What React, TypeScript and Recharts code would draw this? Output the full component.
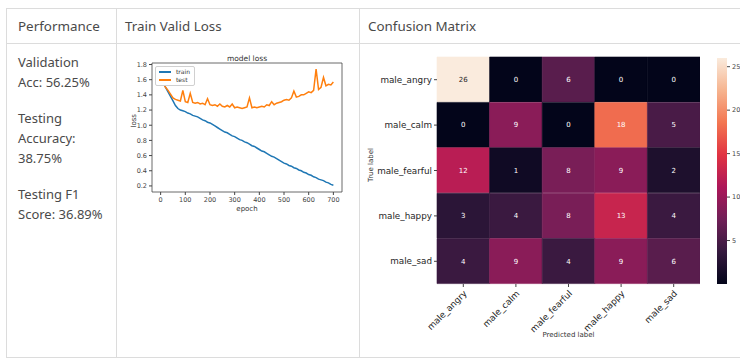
import React from 'react';
import {
  LineChart,
  Line,
  XAxis,
  YAxis,
  ReferenceArea,
  BarChart,
  Bar,
  Cell,
  LabelList,
} from 'recharts';

// training history, sampled every 10 epochs
const epochs = [
  0, 10, 20, 30, 40, 50, 60, 70, 80, 90, 100, 110, 120, 130, 140, 150, 160, 170, 180, 190,
  200, 210, 220, 230, 240, 250, 260, 270, 280, 290, 300, 310, 320, 330, 340, 350, 360, 370, 380, 390,
  400, 410, 420, 430, 440, 450, 460, 470, 480, 490, 500, 510, 520, 530, 540, 550, 560, 570, 580, 590,
  600, 610, 620, 630, 640, 650, 660, 670, 680, 690, 700,
];
const trainLoss = [
  1.6, 1.56, 1.5, 1.44, 1.38, 1.32, 1.26, 1.22, 1.2, 1.19, 1.18, 1.16, 1.15, 1.13, 1.12, 1.11, 1.09, 1.07, 1.06, 1.04,
  1.03, 1.01, 0.99, 0.97, 0.95, 0.93, 0.91, 0.9, 0.88, 0.86, 0.85, 0.83, 0.81, 0.8, 0.78, 0.77, 0.75, 0.73, 0.72, 0.7,
  0.68, 0.66, 0.65, 0.63, 0.61, 0.59, 0.58, 0.56, 0.54, 0.52, 0.5, 0.49, 0.47, 0.46, 0.44, 0.43, 0.41, 0.4, 0.38, 0.37,
  0.35, 0.34, 0.32, 0.31, 0.29, 0.28, 0.27, 0.25, 0.24, 0.22, 0.21,
];
const testLoss = [
  1.58, 1.55, 1.5, 1.46, 1.41, 1.36, 1.34, 1.33, 1.32, 1.46, 1.31, 1.3, 1.42, 1.3, 1.29, 1.3, 1.28, 1.29, 1.27, 1.35,
  1.27, 1.26, 1.27, 1.25, 1.28, 1.25, 1.24, 1.26, 1.24, 1.28, 1.23, 1.24, 1.23, 1.22, 1.23, 1.24, 1.36, 1.23, 1.24, 1.23,
  1.24, 1.25, 1.24, 1.27, 1.26, 1.31, 1.27, 1.29, 1.3, 1.31, 1.33, 1.34, 1.33, 1.36, 1.45, 1.37, 1.38, 1.4, 1.4, 1.42,
  1.44, 1.43, 1.46, 1.74, 1.47, 1.5, 1.63, 1.52, 1.54, 1.53, 1.57,
];
const lossTicksX = [0, 100, 200, 300, 400, 500, 600, 700];
const lossTicksY = [0.2, 0.4, 0.6, 0.8, 1.0, 1.2, 1.4, 1.6, 1.8];

// confusion matrix, rows = true label, columns = predicted label
const classNames = ['male_angry', 'male_calm', 'male_fearful', 'male_happy', 'male_sad'];
const angryRow = [26, 0, 6, 0, 0];
const calmRow = [0, 9, 0, 18, 5];
const fearfulRow = [12, 1, 8, 9, 2];
const happyRow = [3, 4, 8, 13, 4];
const sadRow = [4, 9, 4, 9, 6];
const matrixRows = [angryRow, calmRow, fearfulRow, happyRow, sadRow];
const colorbarTicks = [0, 5, 10, 15, 20, 25];

const lossData = epochs.map((epoch, i) => ({ epoch, train: trainLoss[i], test: testLoss[i] }));

const heatData = classNames.map((name, i) => {
  const row: Record<string, any> = { name };
  matrixRows[i].forEach((v, j) => {
    row[`c${j}`] = 1;
    row[`v${j}`] = v;
  });
  return row;
});
const matrixMax = Math.max(...matrixRows.flat());

// seaborn "rocket" palette
const rocketStops = ['#03051a', '#35193e', '#701f57', '#ad1759', '#e13342', '#f37651', '#f6b48f', '#faebdd'];

const hexToRgb = (h: string) => [1, 3, 5].map((k) => parseInt(h.slice(k, k + 2), 16));
const rocket = (t: number) => {
  const p = Math.min(Math.max(t, 0), 1) * (rocketStops.length - 1);
  const i = Math.min(Math.floor(p), rocketStops.length - 2);
  const f = p - i;
  const a = hexToRgb(rocketStops[i]);
  const b = hexToRgb(rocketStops[i + 1]);
  const c = a.map((v, k) => Math.round(v + (b[k] - v) * f));
  return `rgb(${c[0]},${c[1]},${c[2]})`;
};

const ink = '#4a4a4a';
const border = '#dcdcdc';
const mpl = 'DejaVu Sans, sans-serif';

const LossLegend = () => (
  <div
    style={{
      position: 'absolute',
      left: 155,
      top: 66,
      border: '1px solid #d0d0d0',
      borderRadius: 2,
      background: '#fff',
      padding: '1px 4px 1px 3px',
      fontFamily: mpl,
      fontSize: 6,
      color: '#333',
      lineHeight: '8px',
    }}
  >
    {[
      ['train', '#1f77b4'],
      ['test', '#ff7f0e'],
    ].map(([label, color]) => (
      <div key={label} style={{ display: 'flex', alignItems: 'center' }}>
        <span style={{ display: 'inline-block', width: 12, height: 1.2, background: color, marginRight: 5 }} />
        {label}
      </div>
    ))}
  </div>
);

const CellLabel = (props: any) => {
  const { x, y, width, height, value } = props;
  return (
    <text
      x={x + width / 2}
      y={y + height / 2}
      dy={2.5}
      textAnchor="middle"
      fontSize={7}
      fontFamily={mpl}
      fill={value / matrixMax > 0.8 ? '#262626' : '#ffffff'}
    >
      {value}
    </text>
  );
};

const PredictedTick = (props: any) => {
  const { x, y, payload } = props;
  return (
    <g transform={`translate(${x + 2},${y + 3})`}>
      <text
        x={0}
        y={0}
        dy={3}
        textAnchor="end"
        transform="rotate(-45)"
        fontSize={8.8}
        fontFamily={mpl}
        fill="#262626"
      >
        {classNames[Math.floor(payload.value)]}
      </text>
    </g>
  );
};

const Rule = ({ style }: { style: React.CSSProperties }) => (
  <div style={{ position: 'absolute', background: border, ...style }} />
);

export default function App() {
  return (
    <div
      style={{
        position: 'absolute',
        left: 0,
        top: 0,
        width: 740,
        height: 359,
        overflow: 'hidden',
        background: '#fff',
        fontFamily: '"Noto Sans", "Open Sans", sans-serif',
        color: ink,
      }}
    >
      <svg width={0} height={0} style={{ position: 'absolute' }}>
        <defs>
          <linearGradient id="rocketScale" x1="0" y1="1" x2="0" y2="0">
            {rocketStops.map((c, i) => (
              <stop key={c} offset={i / (rocketStops.length - 1)} stopColor={c} />
            ))}
          </linearGradient>
        </defs>
      </svg>

      {/* table rules */}
      <Rule style={{ left: 6, top: 8, width: 734, height: 1 }} />
      <Rule style={{ left: 6, top: 43, width: 734, height: 1 }} />
      <Rule style={{ left: 6, top: 357, width: 734, height: 1 }} />
      <Rule style={{ left: 6, top: 8, width: 1, height: 350 }} />
      <Rule style={{ left: 116, top: 8, width: 1, height: 350 }} />
      <Rule style={{ left: 359, top: 8, width: 1, height: 350 }} />

      {/* header */}
      {[
        ['Performance', 18],
        ['Train Valid Loss', 125],
        ['Confusion Matrix', 368],
      ].map(([t, x]) => (
        <div key={t as string} style={{ position: 'absolute', left: x as number, top: 16, fontSize: 13.4, lineHeight: '20px' }}>
          {t}
        </div>
      ))}

      {/* metrics */}
      <div style={{ position: 'absolute', left: 18, top: 52, fontSize: 13, lineHeight: '20px' }}>
        Validation<br />Acc: 56.25%
      </div>
      <div style={{ position: 'absolute', left: 18, top: 108, fontSize: 13, lineHeight: '20px' }}>
        Testing<br />Accuracy:<br />38.75%
      </div>
      <div style={{ position: 'absolute', left: 18, top: 184, fontSize: 13, lineHeight: '20px' }}>
        Testing F1<br />Score: 36.89%
      </div>

      {/* model loss */}
      <div
        style={{
          position: 'absolute',
          left: 152,
          width: 190,
          top: 54,
          textAlign: 'center',
          fontFamily: mpl,
          fontSize: 7.5,
          color: '#333',
        }}
      >
        model loss
      </div>
      <div style={{ position: 'absolute', left: 128, top: 48 }}>
        <LineChart width={228} height={170} data={lossData} margin={{ top: 15, right: 14, left: 0, bottom: 0 }}>
          <XAxis
            dataKey="epoch"
            type="number"
            domain={[-35, 735]}
            allowDataOverflow
            ticks={lossTicksX}
            tick={{ fontSize: 6.5, fill: '#444', fontFamily: mpl }}
            tickSize={3}
            tickLine={{ stroke: '#444' }}
            axisLine={false}
            height={26}
            label={{ value: 'epoch', position: 'insideBottom', offset: 7, fontSize: 7, fill: '#333', fontFamily: mpl }}
          />
          <YAxis
            type="number"
            domain={[0.12, 1.82]}
            allowDataOverflow
            ticks={lossTicksY}
            tickFormatter={(v: number) => v.toFixed(1)}
            tick={{ fontSize: 6.5, fill: '#444', fontFamily: mpl }}
            tickSize={3}
            tickLine={{ stroke: '#444' }}
            axisLine={false}
            width={24}
            label={{ value: 'loss', angle: -90, position: 'insideLeft', offset: 6, fontSize: 7, fill: '#333', fontFamily: mpl }}
          />
          <ReferenceArea x1={-35} x2={735} y1={0.12} y2={1.82} fill="none" stroke="#444" strokeWidth={0.8} />
          <Line type="linear" dataKey="train" stroke="#1f77b4" strokeWidth={1.5} dot={false} isAnimationActive={false} />
          <Line type="linear" dataKey="test" stroke="#ff7f0e" strokeWidth={1.5} dot={false} isAnimationActive={false} />
        </LineChart>
      </div>
      <LossLegend />

      {/* confusion matrix */}
      <div
        style={{
          position: 'absolute',
          left: 371,
          top: 165,
          transform: 'translate(-50%, -50%) rotate(-90deg)',
          fontFamily: mpl,
          fontSize: 7,
          color: '#333',
          whiteSpace: 'nowrap',
        }}
      >
        True label
      </div>
      <div style={{ position: 'absolute', left: 360, top: 48 }}>
        <BarChart
          width={340}
          height={291}
          layout="vertical"
          data={heatData}
          barCategoryGap={0}
          margin={{ top: 9, right: 0, left: 0, bottom: 0 }}
        >
          <XAxis
            type="number"
            domain={[0, 5]}
            ticks={[0.5, 1.5, 2.5, 3.5, 4.5]}
            tick={<PredictedTick />}
            tickSize={3}
            tickLine={{ stroke: '#444' }}
            axisLine={false}
            height={55}
          />
          <YAxis
            type="category"
            dataKey="name"
            width={77}
            tick={{ fontSize: 8.8, fill: '#262626', fontFamily: mpl }}
            tickSize={3}
            tickLine={{ stroke: '#444' }}
            axisLine={false}
          />
          {matrixRows[0].map((_, j) => (
            <Bar key={j} dataKey={`c${j}`} stackId="cm" isAnimationActive={false}>
              {heatData.map((_, i) => {
                const fill = rocket(matrixRows[i][j] / matrixMax);
                return <Cell key={i} fill={fill} stroke={fill} strokeWidth={0.6} />;
              })}
              <LabelList dataKey={`v${j}`} content={<CellLabel />} />
            </Bar>
          ))}
        </BarChart>
      </div>
      <div
        style={{
          position: 'absolute',
          left: 437,
          width: 263,
          top: 331,
          textAlign: 'center',
          fontFamily: mpl,
          fontSize: 7,
          color: '#333',
        }}
      >
        Predicted label
      </div>

      {/* colour scale */}
      <div style={{ position: 'absolute', left: 717, top: 48 }}>
        <BarChart width={30} height={236} data={[{ v: matrixMax }]} barCategoryGap={0} margin={{ top: 10, right: 0, left: 0, bottom: 0 }}>
          <XAxis dataKey="v" hide />
          <YAxis
            orientation="right"
            type="number"
            domain={[0, matrixMax]}
            ticks={colorbarTicks}
            tick={{ fontSize: 6.5, fill: '#444', fontFamily: mpl }}
            tickSize={3}
            tickLine={{ stroke: '#444' }}
            axisLine={false}
            width={20}
          />
          <Bar dataKey="v" fill="url(#rocketScale)" isAnimationActive={false} />
        </BarChart>
      </div>
    </div>
  );
}
